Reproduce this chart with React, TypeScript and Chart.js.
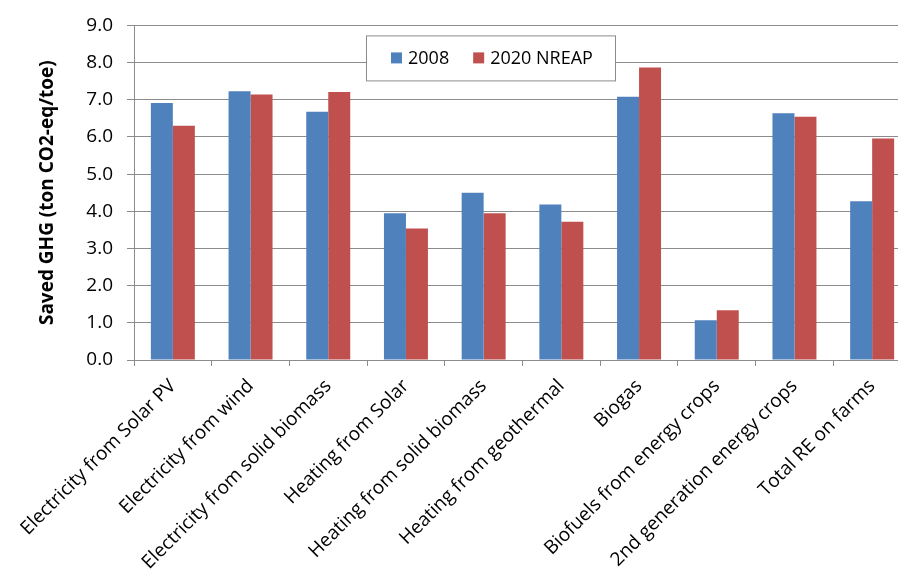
import React, { useEffect, useRef } from "react";
import { Chart, registerables } from "chart.js";

Chart.register(...registerables);

const categories = [
  "Electricity from Solar PV",
  "Electricity from wind",
  "Electricity from solid biomass",
  "Heating from Solar",
  "Heating from solid biomass",
  "Heating from geothermal",
  "Biogas",
  "Biofuels from energy crops",
  "2nd generation energy crops",
  "Total RE on farms",
];
const values2008 = [6.91, 7.23, 6.68, 3.95, 4.5, 4.18, 7.08, 1.07, 6.64, 4.27];
const values2020 = [6.3, 7.14, 7.21, 3.54, 3.95, 3.72, 7.87, 1.34, 6.54, 5.96];
const seriesLabels = ["2008", "2020 NREAP"];
const seriesColors = ["#4F81BD", "#C0504D"];
const yTitle = "Saved GHG (ton CO2-eq/toe)";

const FONT = "'Open Sans', Lato, sans-serif";

const boxLegend = {
  id: "boxLegend",
  afterDraw(chart: any) {
    const { ctx, chartArea } = chart;
    const x0 = chartArea.left + 232;
    const y0 = chartArea.top + 10;
    const w = 249;
    const h = 45;
    ctx.save();
    ctx.fillStyle = "#ffffff";
    ctx.fillRect(x0, y0, w, h);
    ctx.strokeStyle = "#8c8c8c";
    ctx.lineWidth = 1;
    ctx.strokeRect(x0 + 0.5, y0 + 0.5, w, h);
    ctx.font = `18px ${FONT}`;
    ctx.textBaseline = "middle";
    ctx.fillStyle = "#000";
    let x = x0 + 25;
    const cy = y0 + 23;
    chart.data.datasets.forEach((ds: any) => {
      ctx.fillStyle = ds.backgroundColor;
      ctx.fillRect(x, cy - 6, 11, 11);
      ctx.fillStyle = "#000";
      ctx.textAlign = "left";
      ctx.fillText(ds.label, x + 17, cy);
      x += 17 + ctx.measureText(ds.label).width + 24;
    });
    ctx.restore();
  },
};

export default function App() {
  const ref = useRef<HTMLCanvasElement>(null);
  useEffect(() => {
    if (!ref.current) return;
    const chart = new Chart(ref.current, {
      type: "bar",
      data: {
        labels: categories,
        datasets: [
          {
            label: seriesLabels[0],
            data: values2008,
            backgroundColor: seriesColors[0],
            categoryPercentage: 0.566,
            barPercentage: 1,
          },
          {
            label: seriesLabels[1],
            data: values2020,
            backgroundColor: seriesColors[1],
            categoryPercentage: 0.566,
            barPercentage: 1,
          },
        ],
      },
      options: {
        responsive: false,
        animation: false,
        layout: { padding: { left: 0, right: 1, top: 24, bottom: 0 } },
        plugins: {
          legend: { display: false },
          tooltip: { enabled: false },
        },
        scales: {
          x: {
            grid: {
              display: true,
              drawOnChartArea: false,
              drawTicks: true,
              tickLength: 6,
              color: "#8c8c8c",
              offset: true,
            },
            border: { color: "#8c8c8c" },
            ticks: {
              color: "#000",
              font: { family: FONT, size: 19 },
              minRotation: 45,
              maxRotation: 45,
              padding: 9,
              autoSkip: false,
            },
            afterFit(scale: any) {
              scale.height = 215;
            },
          },
          y: {
            min: 0,
            max: 9,
            grid: {
              color: "#8c8c8c",
              tickLength: 7,
            },
            border: { color: "#8c8c8c" },
            ticks: {
              stepSize: 1,
              color: "#000",
              font: { family: FONT, size: 19 },
              padding: 14,
              callback: (v: any) => Number(v).toFixed(1),
            },
            title: {
              display: true,
              text: yTitle,
              color: "#000",
              font: { family: FONT, size: 19, weight: "bold" },
              padding: { top: 36, bottom: 0 },
            },
            afterFit(scale: any) {
              scale.width = 134;
            },
          },
        },
      },
      plugins: [boxLegend],
    });
    return () => chart.destroy();
  }, []);
  return (
    <div
      style={{
        position: "fixed",
        left: 0,
        top: 0,
        width: 898,
        height: 575,
        overflow: "hidden",
        background: "#fff",
      }}
    >
      <canvas ref={ref} width={912} height={575} style={{ display: "block" }} />
    </div>
  );
}
